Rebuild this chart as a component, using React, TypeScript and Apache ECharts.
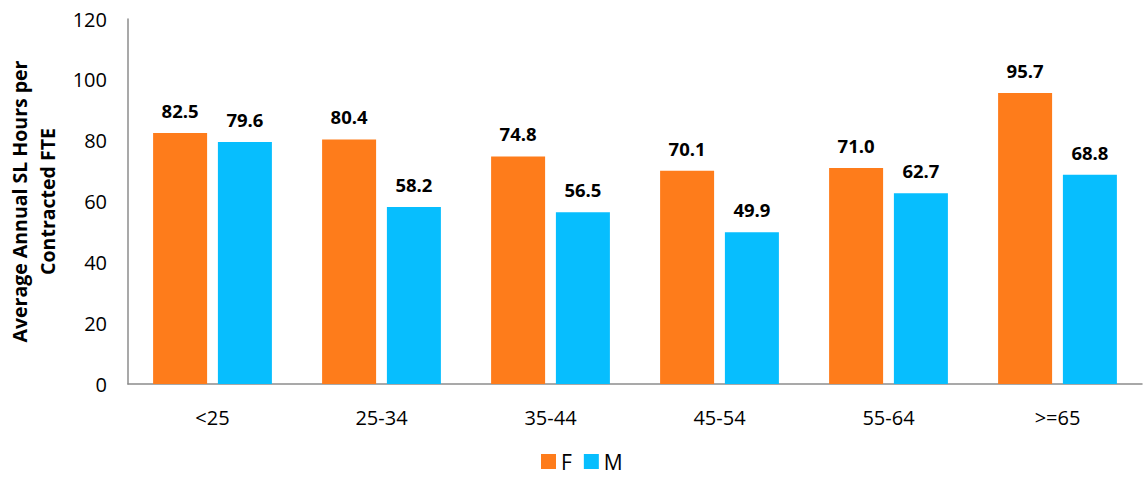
import React, { useEffect, useRef } from "react";
import * as echarts from "echarts";

const categories = ["<25", "25-34", "35-44", "45-54", "55-64", ">=65"];
const femaleValues = [82.5, 80.4, 74.8, 70.1, 71.0, 95.7];
const maleValues = [79.6, 58.2, 56.5, 49.9, 62.7, 68.8];
const seriesNames = ["F", "M"];
const yAxisTitle = "Average Annual SL Hours per\nContracted FTE";

const FONT = "'Open Sans', 'Liberation Sans', sans-serif";

export default function App() {
  const ref = useRef<HTMLDivElement>(null);
  useEffect(() => {
    if (!ref.current) return;
    const chart = echarts.init(ref.current, null, { renderer: "svg" });
    const label = {
      show: true,
      position: "top" as const,
      distance: 13,
      fontFamily: FONT,
      fontWeight: "bold" as const,
      fontSize: 18.5,
      color: "#000",
      formatter: (p: any) => Number(p.value).toFixed(1),
    };
    chart.setOption({
      animation: false,
      textStyle: { fontFamily: FONT },
      grid: { left: 128, right: 2, top: 19, bottom: 97, containLabel: false, outerBoundsMode: "none" },
      legend: {
        data: seriesNames,
        bottom: 4,
        left: 536,
        itemWidth: 15,
        itemHeight: 15,
        itemGap: 12,
        icon: "rect",
        textStyle: { fontFamily: FONT, fontSize: 21, color: "#000" },
      },
      xAxis: {
        type: "category",
        data: categories,
        axisLine: { show: true, lineStyle: { color: "#8c8c8c", width: 1.5 } },
        axisTick: { show: false },
        axisLabel: { fontFamily: FONT, fontSize: 20, color: "#000", margin: 23 },
      },
      yAxis: {
        type: "value",
        min: 0,
        max: 120,
        interval: 20,
        name: yAxisTitle,
        nameLocation: "middle",
        nameGap: 66,
        nameTextStyle: {
          fontFamily: FONT,
          fontWeight: "bold",
          fontSize: 19.5,
          color: "#000",
          lineHeight: 28,
          align: "center",
        },
        axisLine: { show: true, lineStyle: { color: "#8c8c8c", width: 1.5 } },
        axisTick: { show: false },
        splitLine: { show: false },
        axisLabel: { fontFamily: FONT, fontSize: 20, color: "#000", margin: 21 },
      },
      series: [
        {
          name: seriesNames[0],
          type: "bar",
          data: femaleValues,
          barWidth: 54,
          barGap: "20%",
          itemStyle: { color: "#FE7C1B" },
          label,
        },
        {
          name: seriesNames[1],
          type: "bar",
          data: maleValues,
          barWidth: 54,
          barGap: "20%",
          itemStyle: { color: "#07BEFE" },
          label,
        },
      ],
    });
    return () => chart.dispose();
  }, []);
  return (
    <div
      ref={ref}
      style={{ position: "absolute", left: 0, top: 0, width: 1144, height: 481, background: "#fff" }}
    />
  );
}
